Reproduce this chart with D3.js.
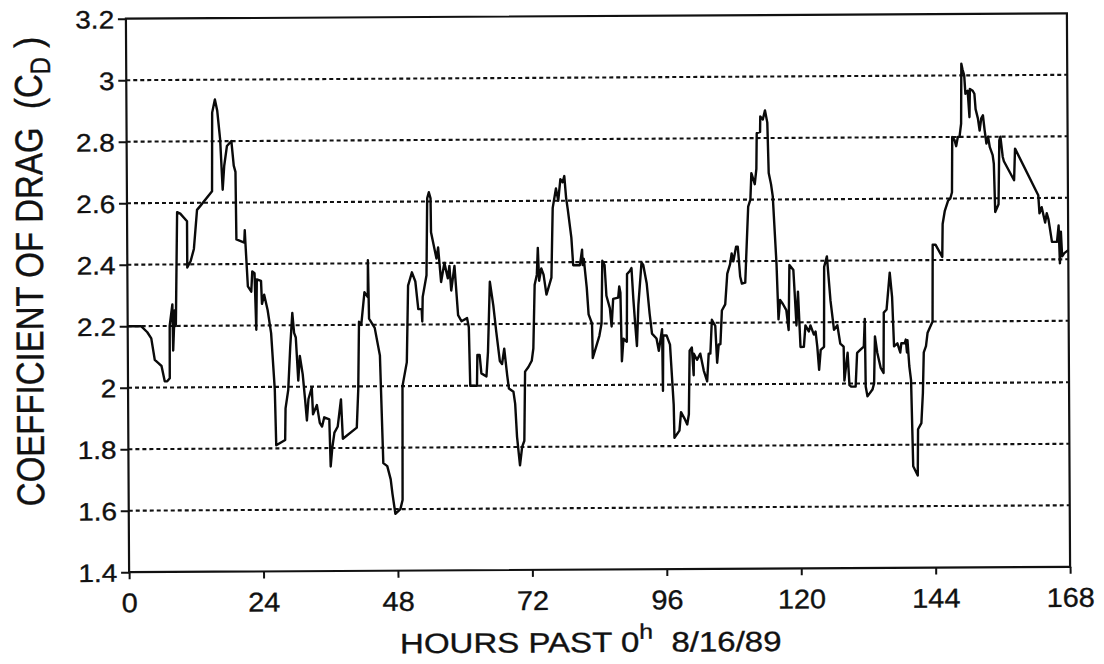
<!DOCTYPE html>
<html>
<head>
<meta charset="utf-8">
<script src="https://cdn.jsdelivr.net/npm/d3@7"></script>
<style>
  html, body { margin: 0; padding: 0; background: #fff; }
  svg { display: block; }
  text { font-family: "Liberation Sans", Arial, Helvetica, sans-serif; fill: #111; stroke: #111; stroke-width: 0.35px; }
</style>
</head>
<body>
<svg id="chart" width="1104" height="664"></svg>
<script>
// Drag coefficient record, hours after 0h on 8/16/89
const hours = [
  0, 2.4, 3.5, 4.2, 4.8, 5.4, 6.0, 6.56, 7.0, 7.46,
  7.5, 8.0, 8.1, 8.4, 8.6, 8.94, 9.5, 10.7, 10.7, 11.3,
  11.9, 12.5, 13.1, 15.2, 15.3, 15.8, 16.2, 16.7, 17.1, 17.4,
  17.9, 18.7, 19.1, 19.4, 19.5, 20.9, 21.0, 21.1, 21.5, 22.1,
  22.3, 22.7, 22.96, 23.1, 23.85, 24.0, 24.4, 25.0, 25.6, 26.2,
  26.4, 28.0, 28.1, 28.6, 29.0, 29.4, 29.7, 30.0, 30.4, 30.7,
  31.2, 31.6, 31.9, 32.2, 32.8, 33.0, 33.7, 34.2, 34.6, 35.0,
  35.9, 36.1, 36.4, 36.8, 37.4, 38.0, 38.3, 40.8, 41.1, 41.3,
  41.7, 42.3, 42.9, 42.95, 43.1, 44.1, 45.0, 45.5, 46.2, 46.8,
  47.1, 47.6, 48.5, 48.9, 49.0, 49.8, 50.1, 50.8, 51.4, 51.9,
  52.5, 52.6, 52.7, 53.4, 53.6, 53.9, 54.2, 54.25, 55.2, 55.5,
  56.0, 56.6, 57.2, 57.5, 57.8, 58.4, 59.0, 59.6, 60.6, 60.9,
  61.1, 62.3, 62.4, 62.8, 63.1, 64.0, 64.3, 64.7, 65.3, 65.8,
  66.4, 66.8, 67.2, 67.7, 68.0, 68.8, 69.1, 69.4, 69.9, 70.3,
  70.7, 70.9, 71.5, 72.1, 72.4, 72.7, 73.1, 73.3, 73.5, 73.9,
  74.3, 74.8, 75.7, 76.0, 76.6, 77.0, 77.4, 77.8, 78.1, 78.4,
  78.7, 79.3, 79.6, 80.8, 81.2, 81.3, 81.5, 82.0, 82.3, 82.9,
  83.0, 83.7, 84.2, 84.6, 84.8, 85.2, 85.5, 86.1, 86.4, 86.7,
  87.6, 87.8, 88.0, 88.2, 88.5, 89.1, 89.2, 89.7, 90.0, 90.3,
  90.6, 90.9, 91.2, 91.8, 92.1, 92.7, 93.2, 93.6, 94.4, 94.8,
  95.4, 95.5, 95.6, 96.2, 96.8, 97.4, 97.5, 98.4, 98.7, 99.3,
  99.8, 100.1, 100.3, 100.7, 101.0, 101.05, 101.6, 102.2, 102.8, 103.4,
  103.7, 104.0, 104.3, 104.9, 105.2, 105.5, 105.8, 106.1, 106.7, 107.1,
  107.6, 107.9, 108.2, 108.7, 109.0, 109.4, 109.7, 110.3, 110.5, 110.9,
  111.3, 111.5, 112.1, 112.4, 112.5, 113.1, 113.15, 113.6, 114.0, 114.4,
  114.6, 115.0, 115.3, 115.9, 116.2, 116.5, 117.0, 117.6, 118.0, 118.2,
  118.9, 119.1, 119.4, 119.7, 120.1, 120.7, 121.0, 121.6, 121.9, 122.5,
  122.8, 123.1, 123.4, 123.7, 124.3, 124.4, 124.9, 125.5, 126.1, 126.7,
  127.2, 127.8, 127.9, 128.5, 128.8, 129.1, 129.9, 130.2, 130.8, 131.4,
  131.6, 131.7, 132.0, 132.9, 133.2, 133.4, 133.8, 134.4, 134.9, 135.0,
  135.5, 136.1, 136.5, 136.8, 137.4, 137.9, 138.1, 138.7, 138.9, 139.1,
  139.2, 139.5, 139.8, 140.1, 140.9, 141.0, 141.6, 141.9, 142.1, 142.5,
  142.8, 143.7, 143.8, 144.3, 145.5, 145.6, 146.0, 146.6, 147.0, 147.3,
  147.4, 147.8, 148.1, 148.4, 148.7, 149.0, 149.1, 149.3, 149.6, 149.8,
  150.2, 150.5, 150.6, 151.1, 151.4, 151.6, 152.0, 152.3, 152.6, 152.9,
  153.2, 153.5, 153.8, 154.1, 154.6, 154.8, 155.0, 155.6, 155.8, 156.0,
  156.4, 156.6, 158.4, 158.6, 162.7, 162.9, 163.3, 163.9, 164.2, 164.5,
  165.1, 166.0, 166.3, 166.5, 166.7, 166.9, 167.3, 168
];
const cd = [
  2.20, 2.20, 2.18, 2.16, 2.09, 2.08, 2.07, 2.02, 2.02, 2.03,
  2.20, 2.27, 2.12, 2.25, 2.20, 2.57, 2.565, 2.54, 2.39, 2.41,
  2.45, 2.577, 2.59, 2.637, 2.893, 2.936, 2.90, 2.805, 2.642, 2.72,
  2.784, 2.80, 2.72, 2.70, 2.48, 2.47, 2.51, 2.47, 2.327, 2.31,
  2.376, 2.37, 2.186, 2.35, 2.345, 2.27, 2.30, 2.25, 2.175, 1.99,
  1.81, 1.827, 1.93, 1.99, 2.13, 2.24, 2.175, 2.16, 2.02, 2.10,
  2.04, 1.958, 1.89, 1.96, 1.997, 1.91, 1.94, 1.882, 1.87, 1.90,
  1.893, 1.74, 1.80, 1.85, 1.87, 1.958, 1.83, 1.866, 1.99, 2.21,
  2.20, 2.306, 2.29, 2.41, 2.22, 2.19, 2.10, 1.75, 1.74, 1.697,
  1.65, 1.585, 1.60, 1.63, 2.00, 2.078, 2.327, 2.37, 2.34, 2.25,
  2.25, 2.21, 2.29, 2.36, 2.61, 2.63, 2.61, 2.50, 2.414, 2.45,
  2.338, 2.40, 2.35, 2.39, 2.31, 2.39, 2.23, 2.21, 2.22, 2.19,
  2.00, 2.00, 2.10, 2.10, 2.04, 2.03, 2.11, 2.338, 2.26, 2.175,
  2.08, 2.07, 2.12, 2.034, 1.99, 1.98, 1.94, 1.833, 1.74, 1.80,
  1.82, 2.045, 2.06, 2.08, 2.12, 2.327, 2.36, 2.447, 2.34, 2.38,
  2.36, 2.295, 2.35, 2.577, 2.64, 2.60, 2.67, 2.66, 2.68, 2.61,
  2.57, 2.48, 2.39, 2.39, 2.44, 2.39, 2.41, 2.316, 2.23, 2.20,
  2.088, 2.13, 2.16, 2.20, 2.404, 2.39, 2.29, 2.25, 2.19, 2.28,
  2.284, 2.32, 2.30, 2.077, 2.15, 2.14, 2.36, 2.37, 2.38, 2.28,
  2.20, 2.126, 2.26, 2.398, 2.39, 2.33, 2.23, 2.166, 2.15, 2.11,
  2.18, 1.98, 2.16, 2.16, 2.13, 1.935, 1.827, 1.85, 1.91, 1.89,
  1.87, 1.903, 2.11, 2.12, 2.03, 2.10, 2.08, 2.10, 2.045, 2.01,
  2.10, 2.10, 2.21, 2.19, 2.07, 2.13, 2.13, 2.24, 2.26, 2.36,
  2.39, 2.425, 2.40, 2.447, 2.447, 2.35, 2.327, 2.33, 2.414, 2.577,
  2.60, 2.686, 2.65, 2.70, 2.816, 2.82, 2.87, 2.86, 2.89, 2.85,
  2.686, 2.65, 2.61, 2.39, 2.21, 2.273, 2.26, 2.24, 2.175, 2.387,
  2.37, 2.30, 2.19, 2.30, 2.12, 2.12, 2.19, 2.17, 2.19, 2.16,
  2.17, 2.12, 2.045, 2.11, 2.12, 2.38, 2.414, 2.27, 2.175, 2.19,
  2.13, 2.12, 2.01, 2.10, 1.995, 1.99, 1.99, 2.10, 2.11, 2.12,
  2.21, 1.99, 1.958, 1.98, 2.00, 2.153, 2.10, 2.05, 2.034, 2.23,
  2.24, 2.36, 2.28, 2.12, 2.13, 2.10, 2.13, 2.13, 2.142, 2.10,
  2.14, 2.056, 2.01, 1.73, 1.70, 1.85, 1.87, 1.968, 2.10, 2.12,
  2.164, 2.20, 2.45, 2.45, 2.41, 2.517, 2.56, 2.593, 2.60, 2.62,
  2.80, 2.79, 2.77, 2.80, 2.80, 2.843, 3.038, 3.02, 3.00, 2.94,
  2.95, 2.864, 2.956, 2.95, 2.94, 2.89, 2.86, 2.82, 2.86, 2.87,
  2.82, 2.778, 2.80, 2.766, 2.74, 2.712, 2.555, 2.58, 2.788, 2.80,
  2.734, 2.72, 2.658, 2.761, 2.609, 2.55, 2.57, 2.52, 2.55, 2.53,
  2.457, 2.457, 2.51, 2.387, 2.49, 2.41, 2.42, 2.43
];

const xTicks = [0, 24, 48, 72, 96, 120, 144, 168];
const yTicks = [1.4, 1.6, 1.8, 2, 2.2, 2.4, 2.6, 2.8, 3, 3.2];
const gridLevels = [1.6, 1.8, 2, 2.2, 2.4, 2.6, 2.8, 3];

const svg = d3.select("#chart");
// the printed figure sits slightly askew on the page
const root = svg.append("g").attr("transform", "rotate(-0.33, 598, 293)");

const x = d3.scaleLinear().domain([0, 168]).range([127.5, 1068.5]);
const y = d3.scaleLinear().domain([1.4, 3.2]).range([569.5, 16]);

// dotted horizontal grid
root.append("g")
  .selectAll("line")
  .data(gridLevels)
  .join("line")
  .attr("x1", x(0)).attr("x2", x(168))
  .attr("y1", d => y(d)).attr("y2", d => y(d))
  .attr("stroke", "#111")
  .attr("stroke-width", 2.1)
  .attr("stroke-dasharray", "4,3");

// y axis
const gy = root.append("g")
  .attr("transform", `translate(${x(0)},0)`)
  .call(d3.axisLeft(y).tickValues(yTicks).tickSize(8).tickFormat(d => String(d)));
gy.select(".domain").remove();
gy.selectAll(".tick line").attr("stroke", "#111").attr("stroke-width", 2);
gy.selectAll(".tick text")
  .attr("x", -10.5)
  .attr("dy", "0.36em")
  .attr("transform", "scale(1.12,1)")
  .attr("fill", "#111")
  .style("font-size", "25px")
  .style("font-family", "'Liberation Sans', Arial, sans-serif");

// x axis
const gx = root.append("g")
  .attr("transform", `translate(0,${y(1.4)})`)
  .call(d3.axisBottom(x).tickValues(xTicks).tickSize(7).tickFormat(d => String(d)));
gx.select(".domain").remove();
gx.selectAll(".tick line").attr("stroke", "#111").attr("stroke-width", 2);
gx.selectAll(".tick text")
  .attr("y", 40)
  .attr("dy", 0)
  .attr("transform", "scale(1.07,1)")
  .attr("fill", "#111")
  .style("font-size", "27px")
  .style("font-family", "'Liberation Sans', Arial, sans-serif");

// frame
root.append("rect")
  .attr("x", x(0)).attr("y", y(3.2))
  .attr("width", x(168) - x(0)).attr("height", y(1.4) - y(3.2))
  .attr("fill", "none")
  .attr("stroke", "#111")
  .attr("stroke-width", 2.2);

// drag coefficient trace
const line = d3.line()
  .x(d => x(d[0]))
  .y(d => y(d[1]));
root.append("path")
  .datum(hours.map((h, i) => [h, cd[i]]))
  .attr("d", line)
  .attr("fill", "none")
  .attr("stroke", "#0a0a0a")
  .attr("stroke-width", 2.4)
  .attr("stroke-linejoin", "round");

// x axis title
const xt = root.append("text")
  .attr("transform", "translate(398,652) scale(1.18,1)")
  .style("font-size", "28px")
  .style("white-space", "pre");
xt.append("tspan").text("HOURS PAST 0");
xt.append("tspan").attr("dy", -13).style("font-size", "21px").text("h");
xt.append("tspan").attr("dy", 13).text("  8/16/89");

// y axis title
const yt = root.append("text")
  .attr("transform", "translate(43,503) scale(1.17,1) rotate(-90)")
  .style("font-size", "33px")
  .style("white-space", "pre");
yt.append("tspan").text("COEFFICIENT OF DRAG  (C");
yt.append("tspan").attr("dy", 7).style("font-size", "24px").text("D");
yt.append("tspan").attr("dy", -7).text(" )");
</script>
</body>
</html>
